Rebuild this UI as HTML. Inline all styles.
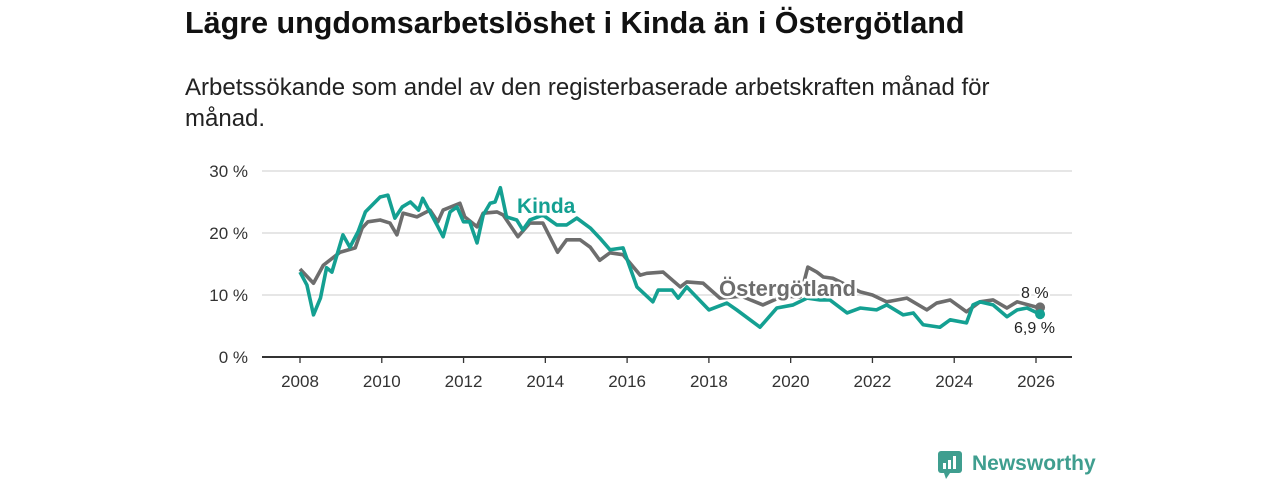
<!DOCTYPE html>
<html><head><meta charset="utf-8"><style>
body{margin:0;width:1280px;height:480px;background:#fff;font-family:"Liberation Sans","DejaVu Sans",sans-serif;overflow:hidden;position:relative}
#title{position:absolute;left:185px;top:6px;font-size:30.5px;font-weight:bold;color:#111;margin:0}
#sub{position:absolute;left:185px;top:72px;width:850px;font-size:24px;line-height:31px;color:#222}
svg{position:absolute;left:0;top:0}
</style></head><body>
<h1 id="title">Lägre ungdomsarbetslöshet i Kinda än i Östergötland</h1>
<div id="sub">Arbetssökande som andel av den registerbaserade arbetskraften månad för månad.</div>
<svg id="chart" width="1280" height="480"></svg>
<script>
const yTicks=[0,10,20,30];
const xTicks=[2008,2010,2012,2014,2016,2018,2020,2022,2024,2026];
const ostT=[2008.0,2008.33,2008.57,2008.98,2009.35,2009.52,2009.66,2009.96,2010.2,2010.37,2010.52,2010.86,2011.18,2011.37,2011.5,2011.91,2012.03,2012.33,2012.48,2012.82,2012.97,2013.33,2013.62,2013.94,2014.3,2014.52,2014.85,2015.1,2015.33,2015.58,2015.9,2016.32,2016.48,2016.88,2017.3,2017.46,2017.86,2018.27,2018.8,2019.32,2019.8,2020.23,2020.42,2020.64,2020.8,2021.03,2021.7,2022.0,2022.35,2022.84,2023.33,2023.57,2023.9,2024.3,2024.63,2024.95,2025.29,2025.54,2025.98,2026.1];
const ostV=[14.2,11.9,14.8,16.9,17.6,20.8,21.8,22.1,21.6,19.7,23.2,22.6,23.7,21.8,23.7,24.8,22.6,21.0,23.2,23.4,22.9,19.4,21.6,21.6,16.9,18.9,18.9,17.7,15.6,16.8,16.5,13.2,13.5,13.7,11.3,12.1,11.9,9.5,9.8,8.4,9.8,9.7,14.5,13.7,12.9,12.7,10.5,10.0,8.9,9.5,7.6,8.7,9.2,7.3,8.9,9.2,7.9,8.9,8.1,8.0];
const kinT=[2008.0,2008.17,2008.33,2008.5,2008.65,2008.78,2009.05,2009.22,2009.42,2009.6,2009.96,2010.15,2010.32,2010.5,2010.7,2010.9,2011.0,2011.35,2011.5,2011.67,2011.84,2012.0,2012.15,2012.33,2012.48,2012.65,2012.77,2012.9,2013.05,2013.3,2013.45,2013.62,2013.94,2014.28,2014.52,2014.77,2015.1,2015.33,2015.58,2015.9,2016.24,2016.63,2016.76,2017.1,2017.25,2017.46,2018.0,2018.44,2018.68,2019.25,2019.66,2020.06,2020.4,2020.72,2020.96,2021.38,2021.7,2022.1,2022.35,2022.75,2023.0,2023.24,2023.65,2023.9,2024.3,2024.46,2024.63,2024.95,2025.29,2025.54,2025.78,2026.1];
const kinV=[13.7,11.6,6.8,9.5,14.4,13.7,19.7,17.7,20.2,23.4,25.8,26.1,22.4,24.2,25.0,23.7,25.6,21.3,19.4,23.4,24.2,21.8,21.8,18.4,22.9,24.8,25.0,27.3,22.6,22.1,20.5,22.1,22.9,21.3,21.3,22.4,20.8,19.2,17.3,17.6,11.3,8.9,10.8,10.8,9.5,11.3,7.6,8.7,7.6,4.8,7.9,8.4,9.5,9.2,9.2,7.1,7.9,7.6,8.4,6.8,7.1,5.2,4.8,6.0,5.5,8.4,8.9,8.4,6.5,7.6,7.9,6.9];
const X=y=>300+(y-2008)*736/18;
const Y=v=>357-v*6.2;
const svg=document.getElementById('chart');
const NS='http://www.w3.org/2000/svg';
function mk(t,a){const e=document.createElementNS(NS,t);for(const k in a)e.setAttribute(k,a[k]);svg.appendChild(e);return e;}
yTicks.forEach(v=>{
  const l=mk('line',{x1:262,x2:1072,y1:Y(v),y2:Y(v),stroke:v===0?'#333':'#d8d8d8','stroke-width':v===0?2:1.3});
  
  
  const t=mk('text',{x:248,y:Y(v)+6,'text-anchor':'end','font-size':17,fill:'#333'});
  t.textContent=v+' %';
  
  
});
xTicks.forEach(v=>{
  const l=mk('line',{x1:X(v),x2:X(v),y1:357,y2:363,stroke:'#333','stroke-width':1.3});
  
  
  const t=mk('text',{x:X(v),y:387,'text-anchor':'middle','font-size':17,fill:'#333'});
  t.textContent=v;
  
  
});
function line(T,V,c,name){
  const p=mk('polyline',{points:T.map((t,i)=>X(t)+','+Y(V[i])).join(' '),fill:'none',stroke:c,'stroke-width':3.6,'stroke-linejoin':'round'});
  
  
  const d=mk('circle',{cx:X(T[T.length-1]),cy:Y(V[V.length-1]),r:5,fill:c});
  
  
}
line(ostT,ostV,'#6d6d6d','series-ostergotland');
line(kinT,kinV,'#14a092','series-kinda');
function lab(x,y,txt,c,name,size,bold){
  const t=mk('text',{x:x,y:y,'font-size':size,'font-weight':bold?'bold':'normal',fill:c,stroke:'#fff','stroke-width':bold?5:4,'paint-order':'stroke'});
  t.textContent=txt;
  
  
}
lab(517,213,'Kinda','#14a092','label-kinda',21,true);
lab(719,296,'Östergötland','#6d6d6d','label-ostergotland',22,true);
lab(1021,298,'8 %','#222','end-value-ostergotland',16,false);
lab(1014,333,'6,9 %','#222','end-value-kinda',16,false);
</script>
<div style="position:absolute;left:938px;top:449px;height:30px;display:flex;align-items:center">
<svg width="24" height="30" style="position:static"><rect x="0" y="2" width="24" height="22" rx="3" fill="#3f9e8f"/><polygon points="6,24 12,24 8,30" fill="#3f9e8f"/><rect x="5" y="14" width="3" height="6" fill="#fff"/><rect x="10" y="11" width="3" height="9" fill="#fff"/><rect x="15" y="7" width="3" height="13" fill="#fff"/></svg>
<span style="margin-left:10px;font-size:21px;color:#3f9e8f;font-weight:bold">Newsworthy</span></div>
</body></html>
